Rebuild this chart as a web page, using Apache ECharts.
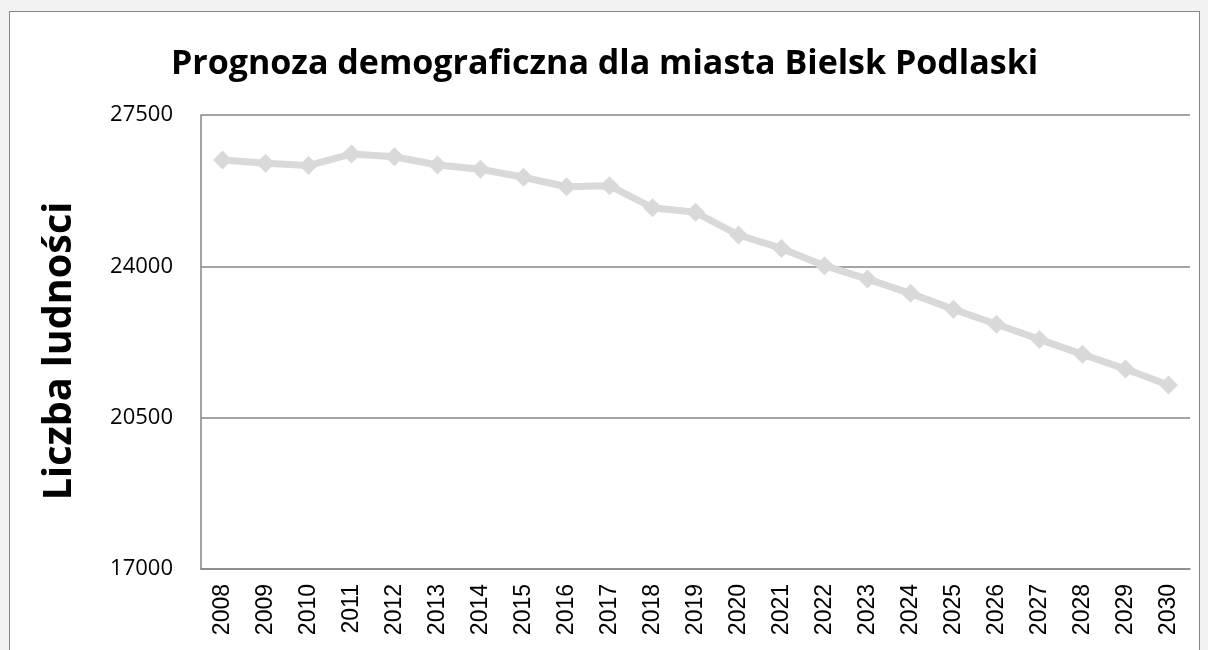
<!DOCTYPE html>
<html>
<head>
<meta charset="utf-8">
<script src="https://cdn.jsdelivr.net/npm/echarts@6/dist/echarts.min.js"></script>
<style>
html,body{margin:0;padding:0;background:#f2f2f2;overflow:hidden;width:1208px;height:650px;}
#frame{position:absolute;left:9px;top:11px;width:1189px;height:660px;border:1px solid #878787;background:#fff;}
#chart{position:absolute;left:0;top:0;width:1189px;height:660px;}
</style>
</head>
<body>
<div id="frame"><div id="chart"></div></div>
<script>
const years = ['2008','2009','2010','2011','2012','2013','2014','2015','2016','2017','2018','2019','2020','2021','2022','2023','2024','2025','2026','2027','2028','2029','2030'];
const population = [26460,26385,26330,26600,26535,26345,26245,26060,25840,25865,25355,25250,24725,24415,24015,23705,23375,23005,22660,22310,21965,21625,21255];
const yTicks = [17000,20500,24000,27500];
const titleText = 'Prognoza demograficzna dla miasta Bielsk Podlaski';
const yAxisTitle = 'Liczba ludności';

const chart = echarts.init(document.getElementById('chart'), null, {renderer:'canvas'});
chart.setOption({
  animation:false,
  backgroundColor:'#fff',
  title:{
    text:titleText,
    left:'center',
    top:30,
    textStyle:{fontFamily:'Open Sans',fontWeight:'bold',fontSize:34,color:'#000'}
  },
  grid:{left:191,top:103,width:989,height:454,containLabel:false},
  xAxis:{
    type:'category',
    data:years,
    boundaryGap:true,
    axisLine:{show:true,lineStyle:{color:'#868686',width:1.5}},
    axisTick:{show:false},
    axisLabel:{rotate:90,fontFamily:'Liberation Sans',fontSize:23,color:'#000',margin:15,interval:0}
  },
  yAxis:{
    type:'value',
    min:yTicks[0],
    max:yTicks[yTicks.length-1],
    interval:3500,
    name:yAxisTitle,
    nameLocation:'middle',
    nameGap:121,
    nameTextStyle:{fontFamily:'Open Sans',fontWeight:'bold',fontSize:39.5,color:'#000',padding:[0,18,0,0]},
    axisLine:{show:true,lineStyle:{color:'#868686',width:1.5}},
    axisTick:{show:false},
    splitLine:{show:true,lineStyle:{color:'#868686',width:1.5}},
    axisLabel:{fontFamily:'Open Sans',fontSize:22,color:'#000',margin:28,formatter:function(v){return String(v);}}
  },
  series:[{
    type:'line',
    data:population,
    symbol:'diamond',
    symbolSize:19,
    lineStyle:{color:'#d9d9d9',width:7},
    itemStyle:{color:'#d9d9d9'}
  }]
});
</script>
</body>
</html>
